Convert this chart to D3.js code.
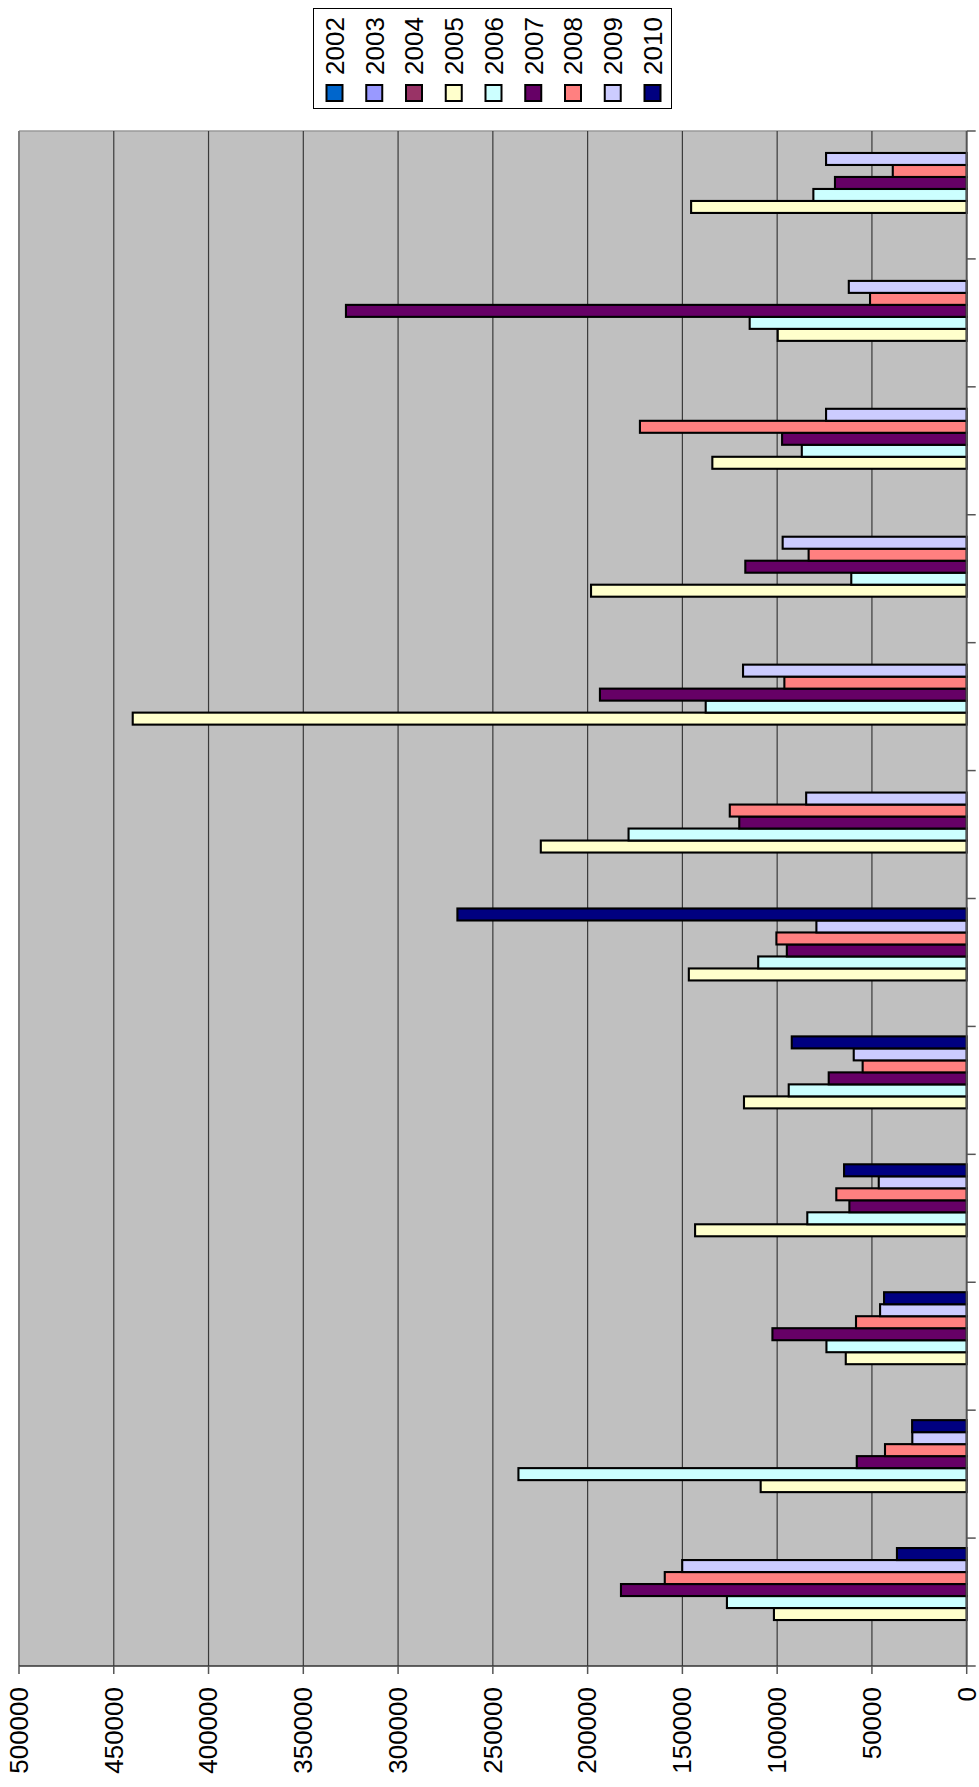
<!DOCTYPE html>
<html>
<head>
<meta charset="utf-8">
<script src="https://cdn.jsdelivr.net/npm/d3@7"></script>
<style>
  html, body { margin: 0; padding: 0; background: #ffffff; }
  svg { display: block; }
  text { font-family: "Liberation Sans", Arial, sans-serif; fill: #000; }
</style>
</head>
<body>
<div id="chart"></div>
<script>
// ---- data ----
const categories = ["1","2","3","4","5","6","7","8","9","10","11","12"];
const years = ["2002","2003","2004","2005","2006","2007","2008","2009","2010"];
const colors = ["#0066CC","#9999FF","#993366","#FFFFCC","#CCFFFF","#660066","#FF8080","#CCCCFF","#000080"];
const s2002 = [null,null,null,null,null,null,null,null,null,null,null,null];
const s2003 = [null,null,null,null,null,null,null,null,null,null,null,null];
const s2004 = [null,null,null,null,null,null,null,null,null,null,null,null];
const s2005 = [101700,108700,63800,143300,117500,146600,224700,440000,198200,134200,99700,145400];
const s2006 = [126500,236500,74000,84100,93900,110000,178400,137700,60900,87000,114500,80900];
const s2007 = [182400,58000,102500,61900,72800,94900,120000,193500,116800,97400,327500,69500];
const s2008 = [159300,43100,58400,68800,54900,100400,125000,96200,83400,172400,51000,39000];
const s2009 = [150100,28700,45700,46400,59600,79300,84700,118000,97100,74200,62200,74200];
const s2010 = [36800,28800,43600,64700,92300,268700,null,null,null,null,null,null];
const valueTicks = [0,50000,100000,150000,200000,250000,300000,350000,400000,450000,500000];

const seriesValues = [s2002,s2003,s2004,s2005,s2006,s2007,s2008,s2009,s2010];

// ---- layout ----
const W = 979, H = 1787;
const plot = { left: 19, right: 966.7, top: 131, bottom: 1666 };

const svg = d3.select("#chart").append("svg").attr("width", W).attr("height", H);

const x = d3.scaleLinear().domain([0, 500000]).range([plot.right, plot.left]);
const y = d3.scaleBand().domain(categories).range([plot.bottom, plot.top])
  .paddingInner(0.156).paddingOuter(0.078);
const ys = d3.scaleBand().domain(years).range([y.bandwidth(), 0]).padding(0);

// plot background
svg.append("rect")
  .attr("x", plot.left).attr("y", plot.top)
  .attr("width", plot.right - plot.left).attr("height", plot.bottom - plot.top)
  .attr("fill", "#C0C0C0");

// top border
svg.append("line")
  .attr("x1", plot.left).attr("x2", plot.right)
  .attr("y1", plot.top).attr("y2", plot.top)
  .attr("stroke", "#9a9a9a").attr("stroke-width", 1.5);

// gridlines
svg.append("g").selectAll("line").data(valueTicks.filter(v => v > 0))
  .join("line")
  .attr("x1", d => x(d)).attr("x2", d => x(d))
  .attr("y1", plot.top).attr("y2", plot.bottom)
  .attr("stroke", d => d === 500000 ? "#808080" : "#3a3a3a")
  .attr("stroke-width", d => d === 500000 ? 2 : 1.2);

// bars
const groups = svg.append("g").selectAll("g").data(categories).join("g")
  .attr("transform", c => `translate(0,${y(c)})`);

groups.each(function(c, ci) {
  const g = d3.select(this);
  const rows = years.map((yr, si) => ({ yr, si, v: seriesValues[si][ci] }))
    .filter(d => d.v != null);
  g.selectAll("rect").data(rows).join("rect")
    .attr("x", d => x(d.v))
    .attr("y", d => ys(d.yr))
    .attr("width", d => x(0) - x(d.v))
    .attr("height", ys.bandwidth())
    .attr("fill", d => colors[d.si])
    .attr("stroke", "#000")
    .attr("stroke-width", 2.1);
});

// category axis (right side), no labels, ticks at category boundaries
const catAxis = svg.append("g");
catAxis.append("line")
  .attr("x1", plot.right).attr("x2", plot.right)
  .attr("y1", plot.top).attr("y2", plot.bottom)
  .attr("stroke", "#555").attr("stroke-width", 2);
const bounds = d3.range(categories.length + 1).map(i => plot.bottom - i * y.step());
catAxis.selectAll("line.tk").data(bounds).join("line").attr("class", "tk")
  .attr("x1", plot.right).attr("x2", plot.right + 9)
  .attr("y1", d => d).attr("y2", d => d)
  .attr("stroke", "#555").attr("stroke-width", 1.5);

// value axis (bottom)
const valAxis = svg.append("g");
valAxis.append("line")
  .attr("x1", plot.left).attr("x2", plot.right)
  .attr("y1", plot.bottom).attr("y2", plot.bottom)
  .attr("stroke", "#333").attr("stroke-width", 1.5);
valAxis.selectAll("line.tk").data(valueTicks).join("line").attr("class", "tk")
  .attr("x1", d => x(d)).attr("x2", d => x(d))
  .attr("y1", plot.bottom).attr("y2", plot.bottom + 8)
  .attr("stroke", "#555").attr("stroke-width", 1.5);
valAxis.selectAll("text").data(valueTicks).join("text")
  .attr("transform", d => `translate(${x(d)},1687) rotate(-90)`)
  .attr("text-anchor", "end")
  .attr("dy", "0.34em")
  .attr("font-size", 26)
  .text(d => String(d));

// legend
const legend = svg.append("g");
legend.append("rect")
  .attr("x", 313.5).attr("y", 8.5).attr("width", 358).attr("height", 100)
  .attr("fill", "#fff").attr("stroke", "#000").attr("stroke-width", 1);
const lx = d3.scalePoint().domain(years).range([334.5, 652.5]);
const items = legend.selectAll("g").data(years).join("g")
  .attr("transform", d => `translate(${lx(d)},0)`);
items.append("rect")
  .attr("x", -8).attr("y", 85).attr("width", 16).attr("height", 16)
  .attr("fill", (d, i) => colors[i]).attr("stroke", "#000").attr("stroke-width", 2);
items.append("text")
  .attr("transform", "translate(0,75) rotate(-90)")
  .attr("text-anchor", "start")
  .attr("dy", "0.36em")
  .attr("font-size", 26)
  .text(d => d);
</script>
</body>
</html>
